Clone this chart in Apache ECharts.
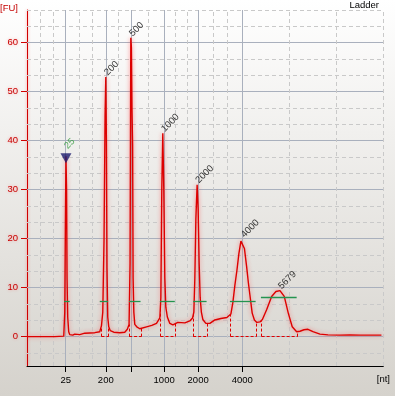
<!DOCTYPE html>
<html>
<head>
<meta charset="utf-8">
<script src="https://cdn.jsdelivr.net/npm/echarts@6/dist/echarts.min.js"></script>
<style>
html,body{margin:0;padding:0;}
#chart{width:395px;height:396px;}
</style>
</head>
<body>
<div id="chart"></div>
<script>
// ---------- DATA (x = migration time [s], y = fluorescence [FU]) ----------
const ladderSizes = ['25', '200', '', '1000', '2000', '4000'];
const ladderTimes = [25.77, 31.75, 35.58, 40.45, 45.52, 52.09];
const yTickValues = [0, 10, 20, 30, 40, 50, 60];

const traceTime = [
  20.00, 21.15, 21.90, 22.12, 22.34, 24.13, 25.48, 25.63, 25.72, 25.81, 25.90, 25.97, 26.07, 26.22, 26.37,
  26.82, 27.12, 27.27, 27.87, 28.61, 30.10, 30.85, 31.10, 31.30, 31.49, 31.64, 31.75, 31.84, 31.93, 32.04,
  32.19, 32.42, 32.94, 33.84, 34.58, 34.96, 35.22, 35.37, 35.48, 35.57, 35.66, 35.75, 35.82, 35.93, 36.07,
  36.37, 36.82, 37.82, 38.61, 39.31, 39.81, 39.96, 40.10, 40.25, 40.40, 40.55, 40.70, 40.93, 41.30, 41.75,
  42.49, 43.54, 44.28, 44.69, 44.88, 45.03, 45.18, 45.37, 45.52, 45.67, 45.82, 46.00, 46.22, 46.67, 47.27,
  48.01, 48.91, 49.81, 50.10, 50.40, 50.70, 51.00, 51.30, 51.60, 51.90, 52.15, 52.42, 52.75, 53.01, 53.24,
  53.58, 53.91, 54.28, 54.73, 55.10, 55.73, 56.48, 57.12, 57.72, 58.36, 58.96, 59.55, 60.21, 60.70, 61.30,
  61.90, 62.64, 63.69, 64.88, 66.67, 68.16, 69.66, 71.15, 72.85
];
const traceFU = [
  0, 0, 0, -0.3, 0, 0, 0.1, 5, 22, 36.8, 30, 12, 4, 1, 0.4,
  0.3, 0.5, 0.2, 0.4, 0.7, 0.8, 1.0, 2.2, 5, 20, 45, 53, 40, 14, 4,
  2.0, 1.2, 0.9, 0.8, 0.9, 1.5, 2.5, 15, 61, 59, 46, 39, 12, 5, 2.5,
  2.0, 1.6, 2.0, 2.3, 2.7, 3.8, 8, 30, 41.5, 30, 12, 6, 4, 2.7, 2.4,
  2.9, 2.8, 3.2, 3.8, 5, 12, 24, 31, 26, 15, 8, 5, 3.5, 2.7, 2.7,
  3.4, 3.7, 3.9, 4.0, 4.6, 7, 10.5, 13.5, 17, 19.5, 19.9, 18, 14.3, 11, 8.5,
  4.8, 3.4, 2.9, 3.0, 3.5, 5.5, 8.2, 9.2, 9.4, 8.2, 4.8, 2.0, 1.0, 1.1, 1.4,
  1.5, 1.0, 0.5, 0.35, 0.3, 0.35, 0.3, 0.3, 0.3
];

// detected peaks
const peakNames = ['25', '200', '500', '1000', '2000', '4000', '5679'];
const peakTimes = [25.81, 31.75, 35.48, 40.25, 45.37, 52.15, 57.72];
const peakFU    = [36.8, 53, 61, 41.5, 31, 19.9, 9.4];

// peak integration borders (start, end) [s]
const areaStart = [31.10, 35.22, 39.91, 44.78, 50.36, 54.99];
const areaEnd   = [32.19, 37.07, 42.04, 46.87, 54.24, 60.36];

// peak width markers (start, end, level)
const widthStart = [25.52, 30.85, 35.22, 39.81, 44.78, 50.25, 54.88];
const widthEnd   = [26.37, 32.09, 36.93, 42.04, 46.78, 54.09, 60.21];
const widthLevel = [7.3, 7.3, 7.3, 7.3, 7.3, 7.3, 8.0];

// axis ranges
const xMin = 20, xMax = 73.13;
const yMin = -6, yMax = 66.67;
// ---------------------------------------------------------------------------

const FONT = 'Liberation Sans';
const trace = traceTime.map((t, i) => [t, traceFU[i]]);

function traceAt(x) {
  for (let i = 1; i < traceTime.length; i++) {
    if (traceTime[i] >= x) {
      const t0 = traceTime[i - 1], t1 = traceTime[i];
      const f = (x - t0) / (t1 - t0);
      return traceFU[i - 1] + f * (traceFU[i] - traceFU[i - 1]);
    }
  }
  return traceFU[traceFU.length - 1];
}

// grid lines
const solidStyle = { color: '#a9b0bd', width: 1, type: 'solid' };
const dashStyle = { color: '#c9c9c9', width: 1, type: [4, 3] };
const gridLines = [];
const minorDiv = 3;
for (let k = Math.ceil(yMin / (10 / minorDiv)); k * 10 / minorDiv <= yMax + 0.01; k++) {
  const v = k * 10 / minorDiv;
  if (k % minorDiv === 0) gridLines.push({ yAxis: v, lineStyle: solidStyle });
  else gridLines.push({ yAxis: Math.min(v, yMax), lineStyle: dashStyle });
}
const bounds = [xMin].concat(ladderTimes, [xMax]);
const subdivisions = [3, 3, 2, 2, 3, 3, 3];
for (let i = 0; i < bounds.length - 1; i++) {
  const a = bounds[i], b = bounds[i + 1], n = subdivisions[i];
  for (let j = 1; j < n; j++) gridLines.push({ xAxis: a + (b - a) * j / n, lineStyle: dashStyle });
}
gridLines.push({ xAxis: xMax, lineStyle: dashStyle });
ladderTimes.forEach(t => gridLines.push({ xAxis: t, lineStyle: solidStyle }));

// integration segments
const areaSegs = [];
for (let i = 0; i < areaStart.length; i++) {
  const s = areaStart[i], e = areaEnd[i];
  areaSegs.push([{ coord: [s, 0] }, { coord: [s, traceAt(s)] }]);
  areaSegs.push([{ coord: [e, 0] }, { coord: [e, traceAt(e)] }]);
  areaSegs.push([{ coord: [s, 0] }, { coord: [e, 0] }]);
}
// width marker segments
const widthSegs = widthStart.map((s, i) => [{ coord: [s, widthLevel[i]] }, { coord: [widthEnd[i], widthLevel[i]] }]);

const labelData = peakNames.map((n, i) => {
  const item = { value: [peakTimes[i], peakFU[i], n] };
  if (i === 0) item.label = { color: '#2f9a3a', distance: 9 };
  return item;
});

const helper = (name, z, lineStyle, data) => ({
  name, type: 'line', z, silent: true,
  data: [[xMin, yMin]], showSymbol: false, lineStyle: { opacity: 0 },
  markLine: { z, silent: true, symbol: ['none', 'none'], label: { show: false }, animation: false, lineStyle, data,
    emphasis: { disabled: true } }
});

const chart = echarts.init(document.getElementById('chart'), null, { renderer: 'canvas' });
chart.setOption({
  animation: false,
  backgroundColor: {
    type: 'linear', x: 0, y: 0, x2: 0, y2: 1,
    colorStops: [{ offset: 0, color: '#ffffff' }, { offset: 1, color: '#d5d2cc' }]
  },
  title: {
    text: 'Ladder', right: 16, top: 0, padding: 0,
    textStyle: { fontFamily: FONT, fontSize: 9.5, fontWeight: 'normal', color: '#000' }
  },
  graphic: [
    { type: 'text', left: 0, top: 3, style: { text: '[FU]', fill: '#c40000', font: '9.5px ' + FONT } },
    { type: 'text', right: 5, top: 374, style: { text: '[nt]', fill: '#000', font: '9.5px ' + FONT } }
  ],
  grid: { left: 27, right: 11.7, top: 10, bottom: 30 },
  xAxis: {
    type: 'value', min: xMin, max: xMax,
    axisLine: { show: true, onZero: false, lineStyle: { color: '#000', width: 1 } },
    axisTick: { show: true, length: 6, lineStyle: { color: '#000' }, customValues: ladderTimes },
    axisLabel: {
      show: true, margin: 9, color: '#000', fontFamily: FONT, fontSize: 9.5,
      customValues: ladderTimes,
      formatter: v => {
        const i = ladderTimes.findIndex(p => Math.abs(p - v) < 1e-6);
        return i >= 0 ? ladderSizes[i] : '';
      }
    },
    splitLine: { show: false }
  },
  yAxis: {
    type: 'value', min: yMin, max: yMax,
    axisLine: { show: true, onZero: false, lineStyle: { color: '#d00000', width: 1, shadowColor: 'rgba(255,0,0,0.45)', shadowBlur: 3 } },
    axisTick: { show: true, length: 6, lineStyle: { color: '#d00000' }, customValues: yTickValues },
    axisLabel: {
      show: true, margin: 9, color: '#c80000', fontFamily: FONT, fontSize: 9.5,
      customValues: yTickValues,
      textShadowColor: 'rgba(255,80,80,0.45)', textShadowBlur: 3
    },
    splitLine: { show: false }
  },
  series: [
    {
      name: 'grid', type: 'line', z: 1, silent: true,
      data: [[xMin, yMin]], showSymbol: false, lineStyle: { opacity: 0 },
      markLine: { z: 1, silent: true, symbol: ['none', 'none'], label: { show: false }, animation: false, data: gridLines }
    },
    {
      name: 'trace', type: 'line', z: 3, data: trace, showSymbol: false, smooth: false,
      lineStyle: { color: '#dd0000', width: 1.4, shadowColor: 'rgba(255,70,70,0.65)', shadowBlur: 4 }
    },
    helper('integration', 4, { color: '#e00000', width: 1, type: [3, 2], opacity: 1 }, areaSegs),
    helper('widths', 4, { color: '#24944f', width: 1.3, type: 'solid', opacity: 1 }, widthSegs),
    {
      name: 'marker', type: 'scatter', z: 5,
      data: [[peakTimes[0], peakFU[0]]],
      symbol: 'triangle', symbolRotate: 180, symbolSize: [11, 10], symbolOffset: [0, 2],
      itemStyle: { color: '#1c1c6e' }
    },
    {
      name: 'peaks', type: 'scatter', z: 6, symbolSize: 0,
      data: labelData,
      label: {
        show: true, position: 'top', distance: 3, rotate: 45, align: 'left', verticalAlign: 'middle',
        fontFamily: FONT, fontSize: 9.5, color: '#000',
        formatter: p => p.value[2]
      }
    }
  ]
});
</script>
</body>
</html>
